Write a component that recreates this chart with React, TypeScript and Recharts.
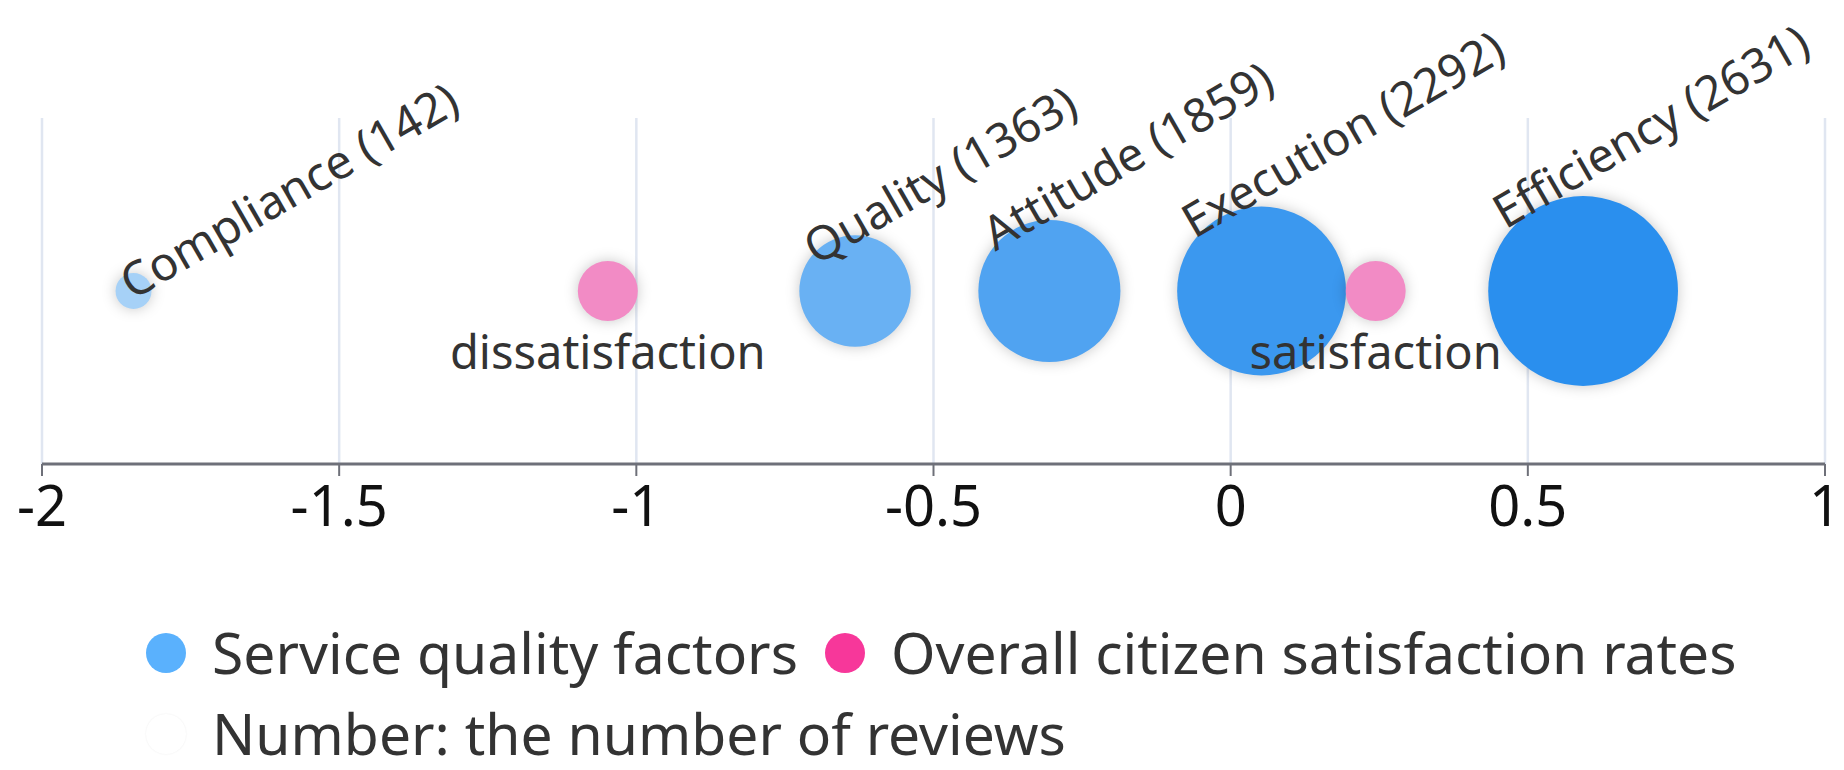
import React from 'react';
import { ScatterChart, Scatter, XAxis, YAxis, CartesianGrid, Legend } from 'recharts';

// service quality factors: score on the x axis, review count drives bubble size
const factorNames = ['Compliance', 'Quality', 'Attitude', 'Execution', 'Efficiency'];
const factorScores = [-1.846, -0.632, -0.305, 0.052, 0.593];
const factorReviews = [142, 1363, 1859, 2292, 2631];

// overall citizen satisfaction rates
const rateNames = ['dissatisfaction', 'satisfaction'];
const rateScores = [-1.048, 0.244];

const xTicks = [-2, -1.5, -1, -0.5, 0, 0.5, 1];

const legendLabels = [
  'Service quality factors',
  'Overall citizen satisfaction rates',
  'Number: the number of reviews',
];
const legendColors = ['#5ab1fd', '#f7379a', '#ffffff'];

const factorData = factorNames.map((name, i) => ({
  name,
  score: factorScores[i],
  reviews: factorReviews[i],
  row: 1,
}));
const rateData = rateNames.map((name, i) => ({ name, score: rateScores[i], row: 1 }));

const FONT = '"Noto Sans", "Open Sans", sans-serif';
const minReviews = Math.min(...factorReviews);
const maxReviews = Math.max(...factorReviews);

// visual map: light blue for few reviews, deep blue for many
const bubbleColor = (n: number) => {
  const t = (n - minReviews) / (maxReviews - minReviews);
  const from = [166, 209, 247];
  const to = [42, 143, 238];
  const c = from.map((v, k) => Math.round(v + (to[k] - v) * t));
  return `rgb(${c[0]},${c[1]},${c[2]})`;
};

const bubbleRadius = (n: number) => 13.6 + n * 0.0309;

const shadow = { filter: 'drop-shadow(0px 0px 7px rgba(0,0,0,0.22))' };

const FactorBubble = (props: any) => {
  const { cx, cy, payload } = props;
  const r = bubbleRadius(payload.reviews);
  const lx = cx - r + 17;
  const ly = cy - 0.92 * r + 26;
  return (
    <g>
      <circle cx={cx} cy={cy} r={r} fill={bubbleColor(payload.reviews)} style={shadow} />
      <text
        x={lx}
        y={ly}
        transform={`rotate(-30 ${lx} ${ly})`}
        fontSize={47}
        fill="#333"
        fontFamily={FONT}
      >
        {`${payload.name} (${payload.reviews})`}
      </text>
    </g>
  );
};

const RateBubble = (props: any) => {
  const { cx, cy, payload } = props;
  const r = 30;
  return (
    <g>
      <circle cx={cx} cy={cy} r={r} fill="#f28bc5" style={shadow} />
      <text x={cx} y={cy + r + 48} textAnchor="middle" fontSize={47} fill="#333" fontFamily={FONT}>
        {payload.name}
      </text>
    </g>
  );
};

const LegendContent = () => (
  <div
    style={{
      display: 'flex',
      flexWrap: 'wrap',
      width: 1690,
      fontFamily: FONT,
      fontSize: 57,
      lineHeight: '81px',
      color: '#333',
    }}
  >
    {legendLabels.map((label, i) => (
      <div key={label} style={{ display: 'flex', alignItems: 'center', marginRight: 27 }}>
        <span
          style={{
            display: 'inline-block',
            width: 40,
            height: 40,
            borderRadius: '50%',
            background: legendColors[i],
            boxShadow: i === 2 ? '0 0 2px rgba(0,0,0,0.08)' : 'none',
            marginRight: 26,
          }}
        />
        <span>{label}</span>
      </div>
    ))}
  </div>
);

export default function App() {
  return (
    <div style={{ position: 'fixed', left: 0, top: 0, background: '#fff' }}>
      <ScatterChart
        width={1844}
        height={770}
        margin={{ top: 118, right: 19, left: 42, bottom: 226 }}
        style={{ fontFamily: FONT }}
      >
        <CartesianGrid horizontal={false} stroke="#e0e6f1" strokeWidth={2.5} />
        <XAxis
          type="number"
          dataKey="score"
          domain={[-2, 1]}
          ticks={xTicks}
          interval={0}
          height={80}
          tickSize={12}
          tickMargin={10}
          axisLine={{ stroke: '#6e7079', strokeWidth: 3 }}
          tickLine={{ stroke: '#6e7079', strokeWidth: 2 }}
          tick={{ fontSize: 56, fill: '#111', fontFamily: FONT }}
        />
        <YAxis type="number" dataKey="row" domain={[0, 2]} hide />
        <Legend
          layout="horizontal"
          verticalAlign="middle"
          align="center"
          wrapperStyle={{ top: 612, left: 146, width: 1690 }}
          content={<LegendContent />}
        />
        <Scatter
          name={legendLabels[0]}
          data={factorData}
          fill={legendColors[0]}
          shape={<FactorBubble />}
          isAnimationActive={false}
        />
        <Scatter
          name={legendLabels[1]}
          data={rateData}
          fill={legendColors[1]}
          shape={<RateBubble />}
          isAnimationActive={false}
        />
      </ScatterChart>
    </div>
  );
}
